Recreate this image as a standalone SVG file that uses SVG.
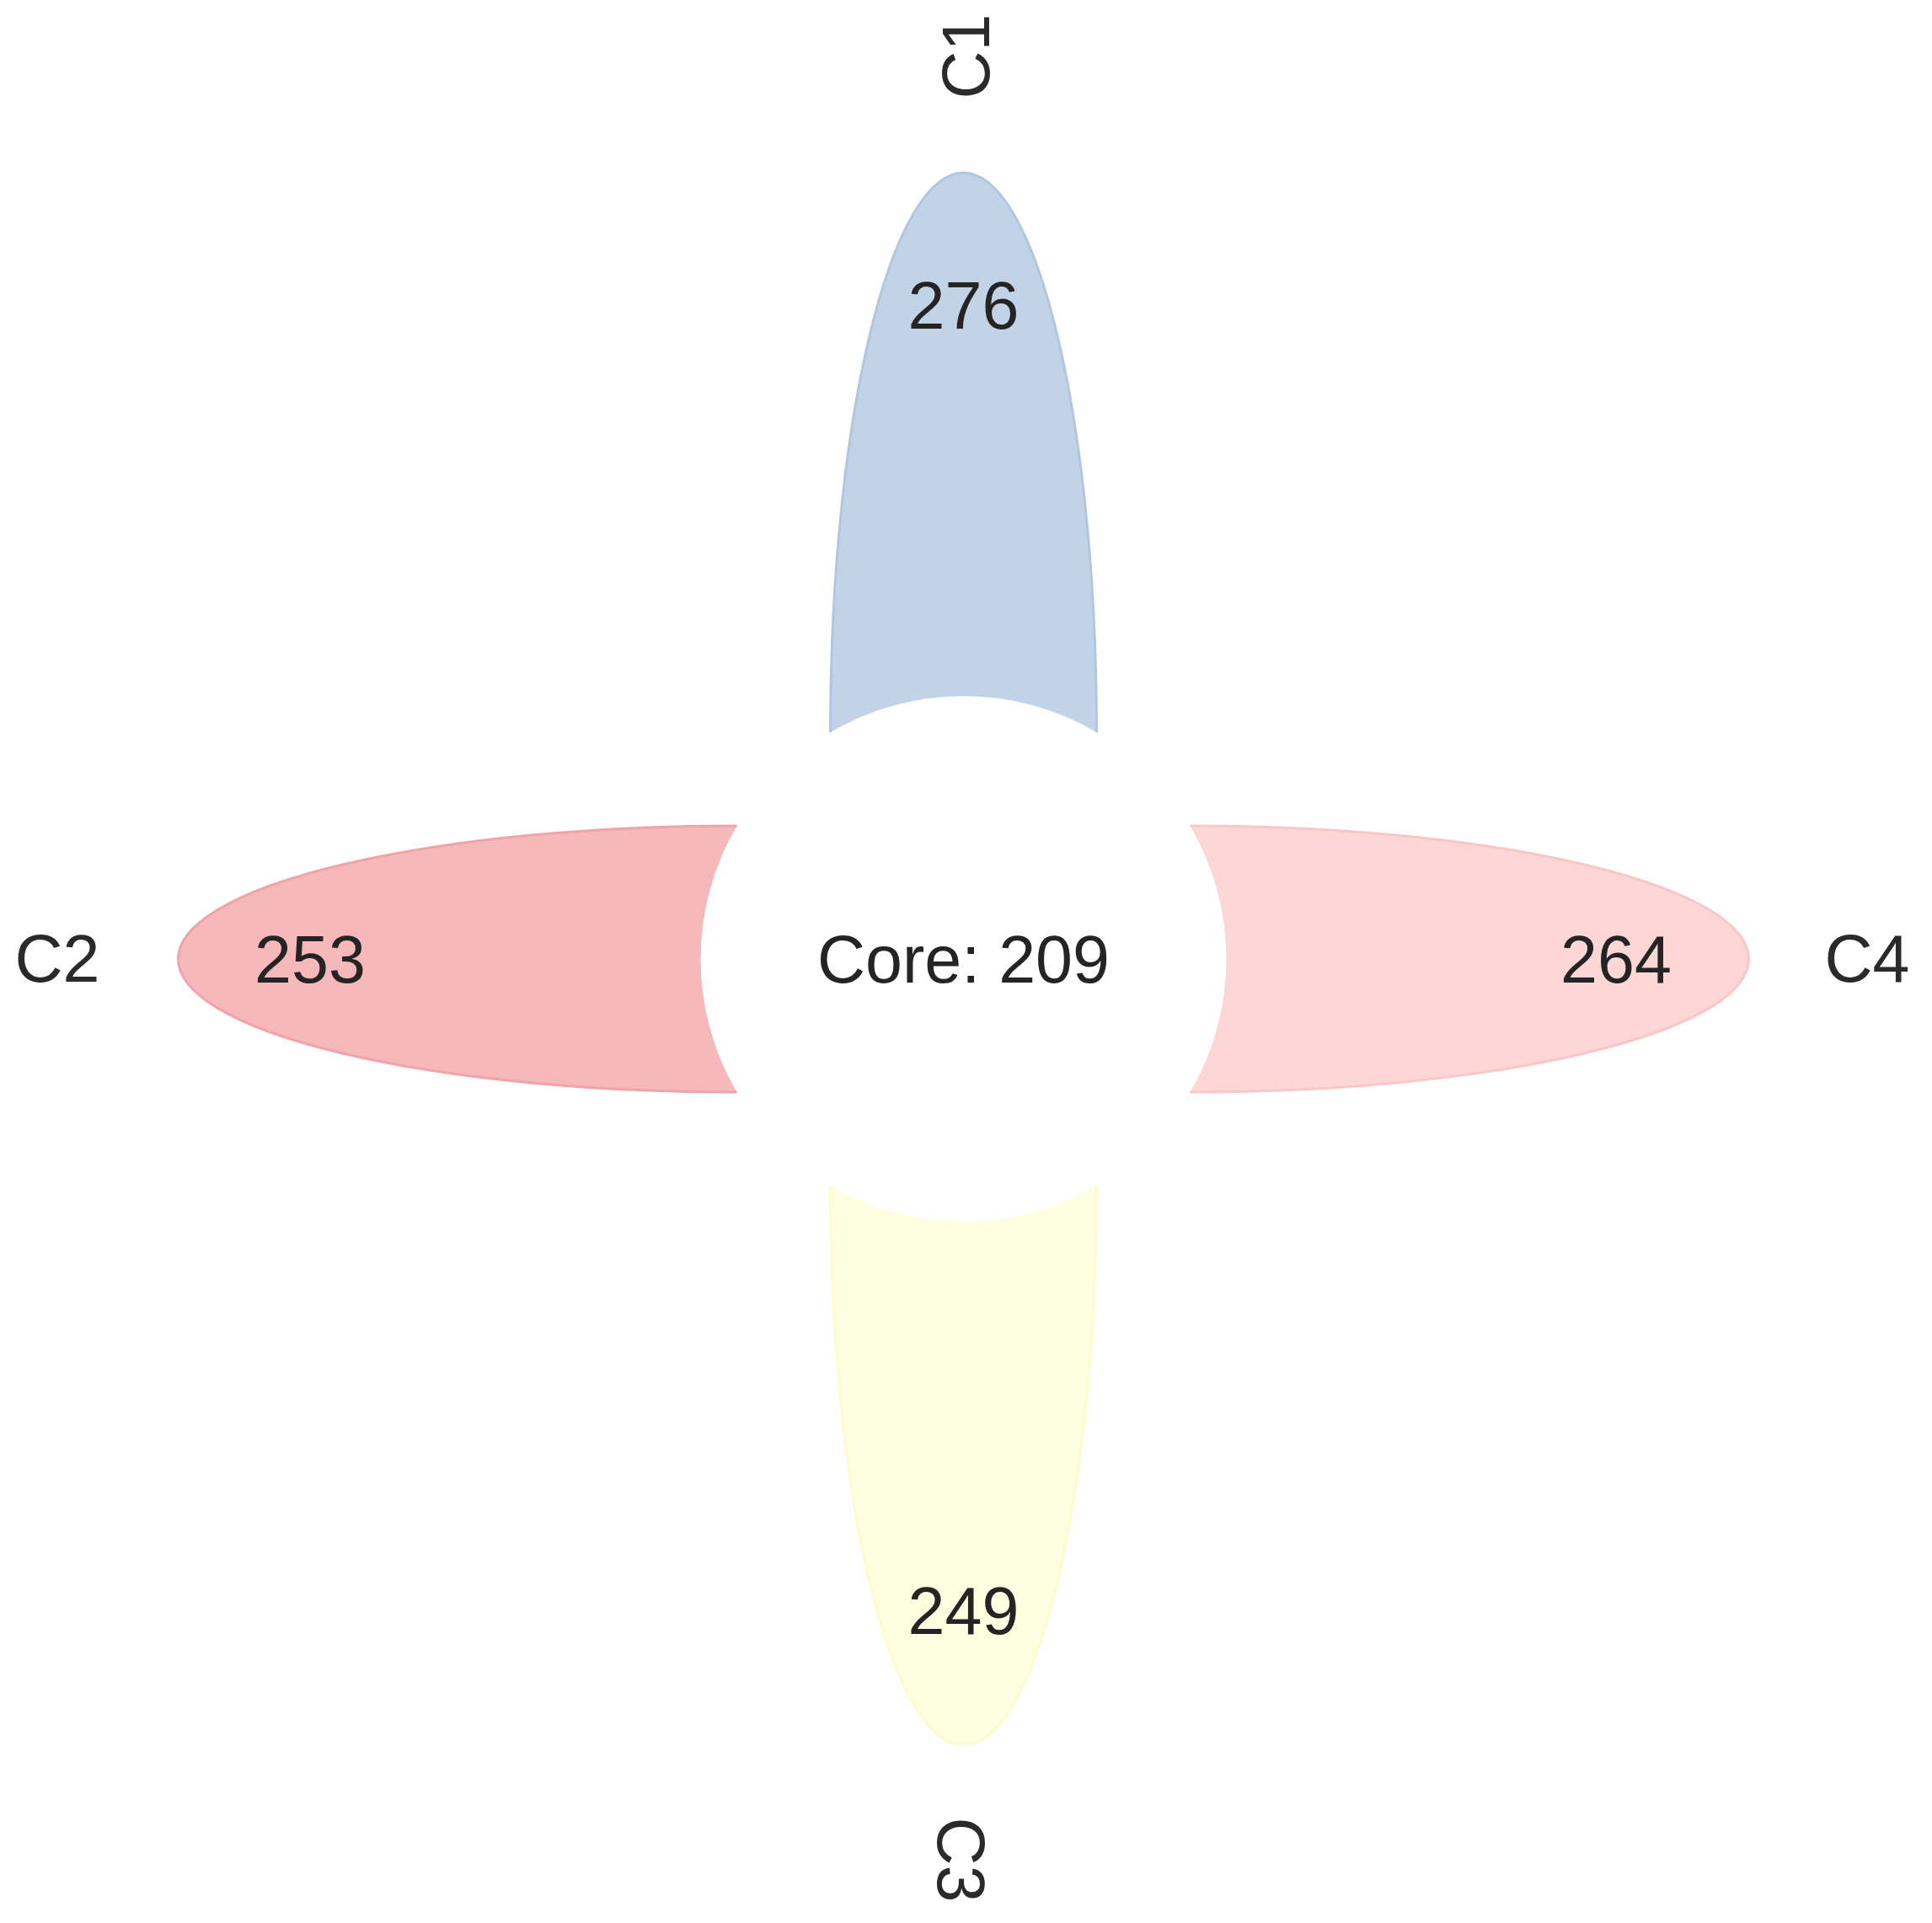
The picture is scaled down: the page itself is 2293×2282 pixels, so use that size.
<svg xmlns="http://www.w3.org/2000/svg" width="2293" height="2282" viewBox="0 0 2293 2282">
<style>
text{font-family:"Liberation Sans",Arial,Helvetica,sans-serif;font-size:79px;fill:#242424;}
.num{text-anchor:middle;}
.lab{text-anchor:middle;fill:#2a2a2a;}
.edge{fill:none;stroke-width:3;}
</style>
<rect width="2293" height="2282" fill="#ffffff"/>
<g id="petal-C1">
<path d="M985.5 869 A158 664 0 1 1 1301.5 869 A312 312 0 0 0 985.5 869 Z" fill="#c3d3e7"/>
<path class="edge" d="M985.5 869 A158 664 0 1 1 1301.5 869" stroke="#b1c6e1"/>
<text class="num" x="1143.5" y="390">276</text>
</g>
<g id="petal-C2">
<path d="M874.5 980 A663 158 0 1 0 874.5 1296 A312 312 0 0 1 874.5 980 Z" fill="#f6b8ba"/>
<path class="edge" d="M874.5 980 A663 158 0 1 0 874.5 1296" stroke="#f0a3a8"/>
<text class="num" x="368" y="1166">253</text>
</g>
<g id="petal-C4">
<path d="M1412.5 980 A663 158 0 1 1 1412.5 1296 A312 312 0 0 0 1412.5 980 Z" fill="#fdd7d6"/>
<path class="edge" d="M1412.5 980 A663 158 0 1 1 1412.5 1296" stroke="#fac6c6"/>
<text class="num" x="1918" y="1166">264</text>
</g>
<g id="petal-C3">
<path d="M985.5 1407 A158 664 0 1 0 1301.5 1407 A312 312 0 0 1 985.5 1407 Z" fill="#fefee0"/>
<path class="edge" d="M985.5 1407 A158 664 0 1 0 1301.5 1407" stroke="#fcfccd"/>
<text class="num" x="1143.5" y="1939">249</text>
</g>
<g id="core">
<text class="num" x="1143.5" y="1166">Core: 209</text>
</g>
<g id="labels">
<text class="lab" transform="translate(1174 67) rotate(-90)">C1</text>
<text class="lab" x="68" y="1165">C2</text>
<text class="lab" transform="translate(1113 2207) rotate(90)">C3</text>
<text class="lab" x="2216" y="1165">C4</text>
</g>
</svg>
